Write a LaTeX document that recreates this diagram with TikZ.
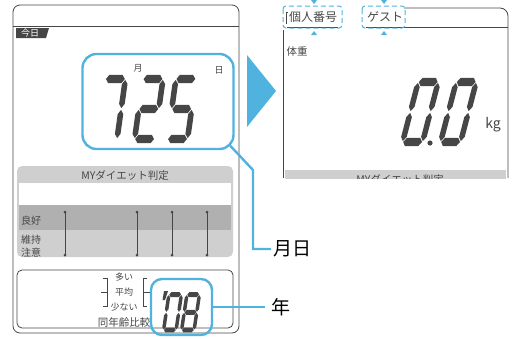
\documentclass[tikz,border=0pt]{standalone}
\usepackage{fontspec}
\setmainfont{Noto Sans CJK JP}
\definecolor{lcdblue}{RGB}{80,178,222}
\definecolor{lcdgray}{RGB}{70,70,70}

% segments of one lcd digit (10 wide, 20 high, origin bottom left)
\def\sega{(0.3,-20) -- (1.7,-21.4) -- (8.3,-21.4) -- (9.7,-20) -- (8.3,-18.6) -- (1.7,-18.6) -- cycle}
\def\segg{(0.3,-10) -- (1.7,-11.4) -- (8.3,-11.4) -- (9.7,-10) -- (8.3,-8.6) -- (1.7,-8.6) -- cycle}
\def\segd{(0.3,0) -- (1.7,-1.4) -- (8.3,-1.4) -- (9.7,0) -- (8.3,1.4) -- (1.7,1.4) -- cycle}
\def\segf{(0,-19.7) -- (1.4,-18.3) -- (1.4,-11.7) -- (0,-10.3) -- (-1.4,-11.7) -- (-1.4,-18.3) -- cycle}
\def\segb{(10,-19.7) -- (11.4,-18.3) -- (11.4,-11.7) -- (10,-10.3) -- (8.6,-11.7) -- (8.6,-18.3) -- cycle}
\def\sege{(0,-9.7) -- (1.4,-8.3) -- (1.4,-1.7) -- (0,-0.3) -- (-1.4,-1.7) -- (-1.4,-8.3) -- cycle}
\def\segc{(10,-9.7) -- (11.4,-8.3) -- (11.4,-1.7) -- (10,-0.3) -- (8.6,-1.7) -- (8.6,-8.3) -- cycle}

\newcommand{\lcddigit}[3]{%
  \begin{scope}[shift={#1},#2]
    \foreach \s in {#3}{\fill[lcdgray] \csname seg\s\endcsname;}
  \end{scope}}

\begin{document}
\begin{tikzpicture}[x=1pt,y=-1pt]
    \tikzstyle{panel} = [draw=lcdgray,line width=0.8pt]
    \tikzstyle{hilite} = [draw=lcdblue,line width=2.4pt,rounded corners=14pt]
    \tikzstyle{hiline} = [draw=lcdblue,line width=2.4pt]
    \tikzstyle{callout} = [font=\fontsize{19}{19}\selectfont,inner sep=2pt]
    \tikzstyle{tiny} = [font=\fontsize{9}{9}\selectfont,inner sep=0pt,text=lcdgray]
    \tikzstyle{bigdig} = [x=2pt,y=-3pt,xslant=0.14]

    \useasboundingbox (0,0) rectangle (514,338);

    % left screen
    \draw[panel,rounded corners=7pt] (13,5) rectangle (239,333);
    \draw[panel] (13,26) -- (239,26);
    \fill[lcdgray] (16,28) -- (49,28) -- (46,38) -- (16,38) -- cycle;
    \node[tiny,text=white] (today) at (30,33) {今日};

    \node[tiny] (mon) at (138,68) {月};
    \node[tiny] (day) at (219,70) {日};
    \lcddigit{(97,139)}{bigdig}{a,b,c}
    \lcddigit{(134.6,139)}{bigdig}{a,b,g,e,d}
    \lcddigit{(167.5,139)}{bigdig}{a,f,g,c,d}

    \fill[gray!38,rounded corners=5pt] (17,166) rectangle (233,257);
    \fill[white] (19,183) rectangle (231,205);
    \fill[gray!62] (19,205) rectangle (231,230);
    \node[font=\fontsize{10.5}{10.5}\selectfont,text=lcdgray] (mytitle) at (125,175) {MYダイエット判定};
    \node[tiny,font=\fontsize{10}{10}\selectfont] (good) at (31,221) {良好};
    \node[tiny,font=\fontsize{10}{10}\selectfont] (keep) at (31,240) {維持};
    \node[tiny,font=\fontsize{10}{10}\selectfont] (care) at (31,253) {注意};
    \foreach \x in {65,137,172,207}{
        \draw[lcdgray,line width=0.7pt] (\x,212) -- (\x,255);
        \fill[lcdgray] (\x,212) circle (1.5pt) (\x,255) circle (1.5pt);
    }

    \draw[panel,rounded corners=5pt] (17,270) rectangle (233,328);
    \node[tiny] (many) at (124,277) {多い};
    \node[tiny] (avg) at (124,292) {平均};
    \node[tiny] (few) at (124,307) {少ない};
    \node[tiny,font=\fontsize{10.5}{10.5}\selectfont] (same) at (124,322) {同年齢比較};
    \draw[lcdgray,line width=0.7pt] (103,278) -- (107,278) -- (107,306) -- (103,306)
        (101,292) -- (107,292);
    \draw[lcdgray,line width=0.7pt] (147,278) -- (143,278) -- (143,306) -- (147,306)
        (143,292) -- (150,292);
    \fill[lcdgray] (164,291) -- (168,291) -- (165,300) -- (162.5,300) -- cycle;
    \lcddigit{(163.6,330)}{x=1.25pt,y=-1.77pt,xslant=0.15}{a,b,c,d,e,f}
    \lcddigit{(181.6,330)}{x=1.25pt,y=-1.77pt,xslant=0.15}{a,b,c,d,e,f,g}

    % arrow to the next screen
    \fill[lcdblue] (247,55) -- (247,127) -- (276,91) -- cycle;

    % right screen
    \draw[panel] (283,30) -- (283,178);
    \draw[panel,rounded corners=8pt] (404,8) -- (508,8) -- (508,178);
    \draw[panel] (287,27) -- (338,27) (366,27) -- (508,27);
    \draw[lcdgray,line width=0.6pt] (288,12) -- (286,12) -- (286,24);
    \node[font=\fontsize{12}{12}\selectfont,text=lcdgray] (idno) at (313,17) {個人番号};
    \node[font=\fontsize{12}{12}\selectfont,text=lcdgray] (guest) at (385,17) {ゲスト};
    \draw[lcdblue,line width=1pt,dash pattern=on 5pt off 3pt,rounded corners=3pt]
        (283,6) rectangle (342,28) (362,6) rectangle (405,28);
    \foreach \x in {314,384}{
        \fill[lcdblue] (\x-3,0) -- (\x+3,0) -- (\x,4) -- cycle;
        \fill[lcdblue] (\x-3,35) -- (\x+3,35) -- (\x,31) -- cycle;
    }
    \node[font=\fontsize{10.5}{10.5}\selectfont,text=lcdgray] (weight) at (297,52) {体重};
    \lcddigit{(402.6,142)}{bigdig,x=2pt,y=-3pt,xslant=0.12}{a,b,c,d,e,f}
    \lcddigit{(440.6,142)}{bigdig,x=2pt,y=-3pt,xslant=0.12}{a,b,c,d,e,f}
    \fill[lcdgray] (430,143) circle (2.6pt);
    \node[font=\fontsize{14}{14}\selectfont,text=lcdgray] (kg) at (493,125) {kg};
    \begin{scope}
        \clip (283,170) rectangle (508,178);
        \fill[gray!38] (285,170) rectangle (506,180);
        \node[font=\fontsize{10.5}{10.5}\selectfont,text=lcdgray] (mytitle2) at (400,179) {MYダイエット判定};
    \end{scope}

    % highlights and callouts
    \node[hilite,minimum width=151pt,minimum height=95pt] (mdbox) at (158,101.5) {};
    \node[hilite,rounded corners=11pt,minimum width=61pt,minimum height=56pt] (yrbox) at (181.5,307) {};
    \node[callout] (mdlabel) at (292,249) {月日};
    \node[callout,inner sep=6pt] (yrlabel) at (281,307) {年};

    \draw[hiline] ([shift={(-4.5pt,4.5pt)}]mdbox.south east) -- (253,170) |- (mdlabel.west);
    \draw[hiline] (yrbox.east) -- (yrlabel.west);

\end{tikzpicture}
\end{document}
